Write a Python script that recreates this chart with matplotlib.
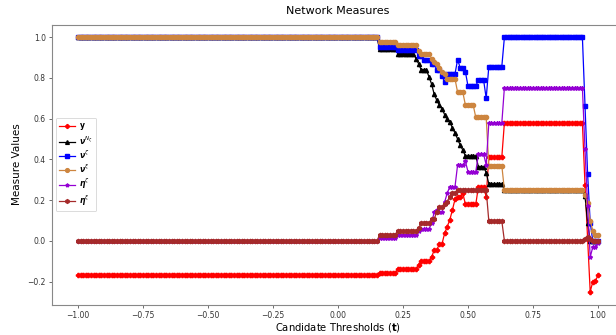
import numpy as np
import matplotlib
matplotlib.use("Agg")
import matplotlib.pyplot as plt

# thresholds -1.00 .. 1.00 step 0.01
t = np.round(np.linspace(-1, 1, 201), 2)

# series stored as (run length, value) pairs
y_runs = [(116, -0.167), (7, -0.158), (8, -0.139), (1, -0.118), (4, -0.10), (1, -0.08),
          (2, -0.044), (2, -0.015), (1, 0.037), (1, 0.07), (1, 0.103), (1, 0.152), (1, 0.204),
          (2, 0.217), (1, 0.234), (5, 0.18), (3, 0.266), (1, 0.217), (6, 0.41), (31, 0.58),
          (1, 0.275), (1, 0.01), (1, -0.25), (1, -0.20), (1, -0.195), (1, -0.17)]
nu_nz_runs = [(116, 1.0), (7, 0.94), (7, 0.92), (1, 0.895), (1, 0.87), (3, 0.84), (1, 0.805),
              (1, 0.77), (1, 0.72), (1, 0.69), (1, 0.667), (1, 0.65), (1, 0.62), (1, 0.60),
              (1, 0.585), (1, 0.555), (1, 0.53), (1, 0.50), (1, 0.47), (1, 0.446), (5, 0.417),
              (3, 0.364), (1, 0.335), (6, 0.28), (31, 0.25),
              (1, 0.22), (1, 0.09), (1, 0.0), (1, 0.0), (1, 0.0), (1, 0.0)]
nu_z_runs = [(116, 1.0), (7, 0.95), (8, 0.935), (2, 0.91), (3, 0.89), (2, 0.87), (2, 0.84),
             (1, 0.81), (1, 0.78), (4, 0.82), (1, 0.89), (2, 0.85), (1, 0.83), (4, 0.76),
             (3, 0.79), (1, 0.70), (6, 0.855), (31, 1.0),
             (1, 0.66), (1, 0.33), (1, 0.09), (1, 0.0), (1, 0.0), (1, 0.0)]
nu_x_runs = [(116, 1.0), (7, 0.975), (8, 0.96), (1, 0.93), (4, 0.917), (1, 0.895), (1, 0.88),
             (1, 0.87), (1, 0.847), (1, 0.83), (1, 0.82), (4, 0.795), (3, 0.73), (4, 0.667),
             (5, 0.606), (6, 0.37), (31, 0.25),
             (1, 0.225), (1, 0.185), (1, 0.10), (1, 0.05), (1, 0.03), (1, 0.03)]
eta_z_runs = [(116, 0.0), (7, 0.013), (8, 0.03), (1, 0.046), (4, 0.057), (1, 0.087), (1, 0.14),
              (1, 0.15), (2, 0.14), (1, 0.19), (1, 0.234), (3, 0.266), (3, 0.373), (1, 0.39),
              (4, 0.34), (3, 0.426), (1, 0.373), (6, 0.577), (31, 0.753),
              (1, 0.45), (1, 0.17), (1, -0.08), (1, -0.03), (1, -0.03), (1, -0.01)]
eta_x_runs = [(116, 0.0), (7, 0.03), (8, 0.046), (1, 0.062), (4, 0.087), (2, 0.106), (1, 0.144),
              (2, 0.168), (1, 0.18), (1, 0.193), (1, 0.217), (2, 0.234), (12, 0.25), (6, 0.098),
              (31, 0.0), (1, 0.01), (1, 0.02), (1, 0.01), (1, 0.0), (1, 0.0), (1, 0.0)]


def expand(runs):
    return np.repeat([v for n, v in runs], [n for n, v in runs])


labels = [r'$\mathbf{y}$', r'$\boldsymbol{\nu}^{N_\zeta}$', r'$\boldsymbol{\nu}^{\zeta}$',
          r'$\boldsymbol{\nu}^{\xi}$', r'$\boldsymbol{\eta}^{\zeta}$', r'$\boldsymbol{\eta}^{\xi}$']
colors = ['red', 'black', 'blue', 'peru', 'darkviolet', 'brown']
markers = ['P', '^', 's', 'o', '*', 'h']
series = [y_runs, nu_nz_runs, nu_z_runs, nu_x_runs, eta_z_runs, eta_x_runs]

fig = plt.figure(figsize=(6.16, 3.35), dpi=100)
ax = fig.add_axes([52 / 616, 30.5 / 335, 572 / 616, 280 / 335])

for runs, lab, c, m in zip(series, labels, colors, markers):
    ax.plot(t, expand(runs), marker=m, color=c, label=lab, markersize=3, linewidth=0.9)

ax.set_title("Network Measures", fontsize=8, pad=7.5)
ax.set_xlabel(r"Candidate Thresholds ($\mathbf{t}$)", fontsize=7.2, labelpad=1)
ax.set_ylabel("Measure Values", fontsize=7.5)
ax.set_yticks([-0.2, 0.0, 0.2, 0.4, 0.6, 0.8, 1.0])
ax.tick_params(labelsize=5.5, length=2.5, width=0.6, pad=2,
               colors='#555555', labelcolor='#333333')
for s in ax.spines.values():
    s.set_color('#888888')
    s.set_linewidth(0.8)

leg = ax.legend(loc='center left', fontsize=5.5, markerscale=0.9, handlelength=2.0,
                labelspacing=0.25, borderpad=0.45, handletextpad=0.6)
leg.get_frame().set_linewidth(0.6)

fig.savefig("out.png", dpi=100)
